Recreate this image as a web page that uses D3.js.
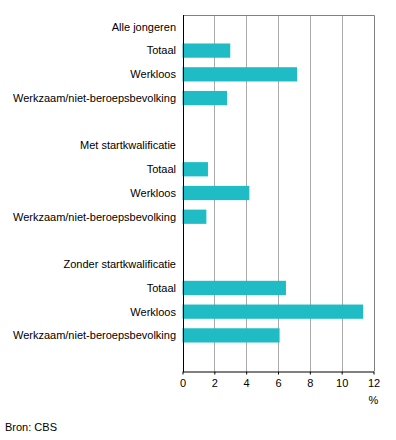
<!DOCTYPE html>
<html>
<head>
<meta charset="utf-8">
<script src="https://cdn.jsdelivr.net/npm/d3@7"></script>
<style>
  body { margin: 0; background: #fff; }
  text { font-family: "Liberation Sans", Arial, sans-serif; font-size: 11px; fill: #000; }
</style>
</head>
<body>
<svg width="396" height="440"></svg>
<script>
// groups and rows (empty label = spacer row)
const groups = ['Alle jongeren', 'Met startkwalificatie', 'Zonder startkwalificatie'];
const subLabels = ['Totaal', 'Werkloos', 'Werkzaam/niet-beroepsbevolking'];
const alleValues = [3.0, 7.2, 2.8];
const metValues = [1.6, 4.2, 1.5];
const zonderValues = [6.5, 11.35, 6.1];
const xTicks = [0, 2, 4, 6, 8, 10, 12];

const seriesByGroup = [alleValues, metValues, zonderValues];

// build the row list: header, three bars, a blank row per group
const rows = [];
groups.forEach(function(g, gi) {
    rows.push({ id: 'h' + gi, label: g, value: null });
    subLabels.forEach(function(s, si) {
        rows.push({ id: 'b' + gi + si, label: s, value: seriesByGroup[gi][si] });
    });
    rows.push({ id: 'e' + gi, label: '', value: null });
});

const svg = d3.select('svg');
const plotLeft = 182.5, plotRight = 373.5, plotTop = 15, plotBottom = 371;

const x = d3.scaleLinear().domain([0, 12]).range([plotLeft, plotRight]);
const y = d3.scaleBand()
    .domain(rows.map(function(d) { return d.id; }))
    .range([plotTop, plotBottom])
    .paddingInner(0.4)
    .paddingOuter(0.2);

// gridlines
svg.append('g').selectAll('line')
    .data(xTicks.slice(1, -1))
    .enter().append('line')
    .attr('x1', function(d) { return Math.round(x(d)) + 0.5; })
    .attr('x2', function(d) { return Math.round(x(d)) + 0.5; })
    .attr('y1', plotTop)
    .attr('y2', plotBottom)
    .attr('stroke', '#aaaaaa');

// frame top and right
svg.append('path')
    .attr('d', 'M' + Math.round(plotLeft) + ',' + (plotTop + 0.5) + 'H' + (Math.round(plotRight) + 0.5) + 'V' + plotBottom)
    .attr('fill', 'none')
    .attr('stroke', '#808080');

// bars
const barRows = rows.filter(function(d) { return d.value !== null; });
svg.append('g').selectAll('rect')
    .data(barRows)
    .enter().append('rect')
    .attr('x', x(0))
    .attr('y', function(d) { return y(d.id); })
    .attr('width', function(d) { return x(d.value) - x(0); })
    .attr('height', y.bandwidth())
    .attr('fill', '#1fbcc6');

// row labels
svg.append('g').selectAll('text')
    .data(rows.filter(function(d) { return d.label; }))
    .enter().append('text')
    .attr('x', 176)
    .attr('y', function(d) { return y(d.id) + y.bandwidth() / 2; })
    .attr('dy', '0.35em')
    .attr('text-anchor', 'end')
    .text(function(d) { return d.label; });

// x axis
const xAxis = svg.append('g')
    .attr('transform', 'translate(0,' + (plotBottom + 0.5) + ')')
    .call(d3.axisBottom(x).tickValues(xTicks).tickSize(3).tickPadding(5).tickSizeOuter(0));
xAxis.select('.domain').attr('stroke', '#000');
xAxis.selectAll('.tick line').attr('stroke', '#000');
xAxis.selectAll('.tick text')
    .style('font-family', '"Liberation Sans", Arial, sans-serif')
    .style('font-size', '11px')
    .attr('fill', '#000');

// y axis line
svg.append('line')
    .attr('x1', Math.round(plotLeft) + 0.5)
    .attr('x2', Math.round(plotLeft) + 0.5)
    .attr('y1', plotTop)
    .attr('y2', plotBottom + 1)
    .attr('stroke', '#000');

svg.append('text')
    .attr('x', x(12))
    .attr('y', 404)
    .attr('text-anchor', 'middle')
    .text('%');

svg.append('text')
    .attr('x', 5)
    .attr('y', 431)
    .text('Bron: CBS');
</script>
</body>
</html>
